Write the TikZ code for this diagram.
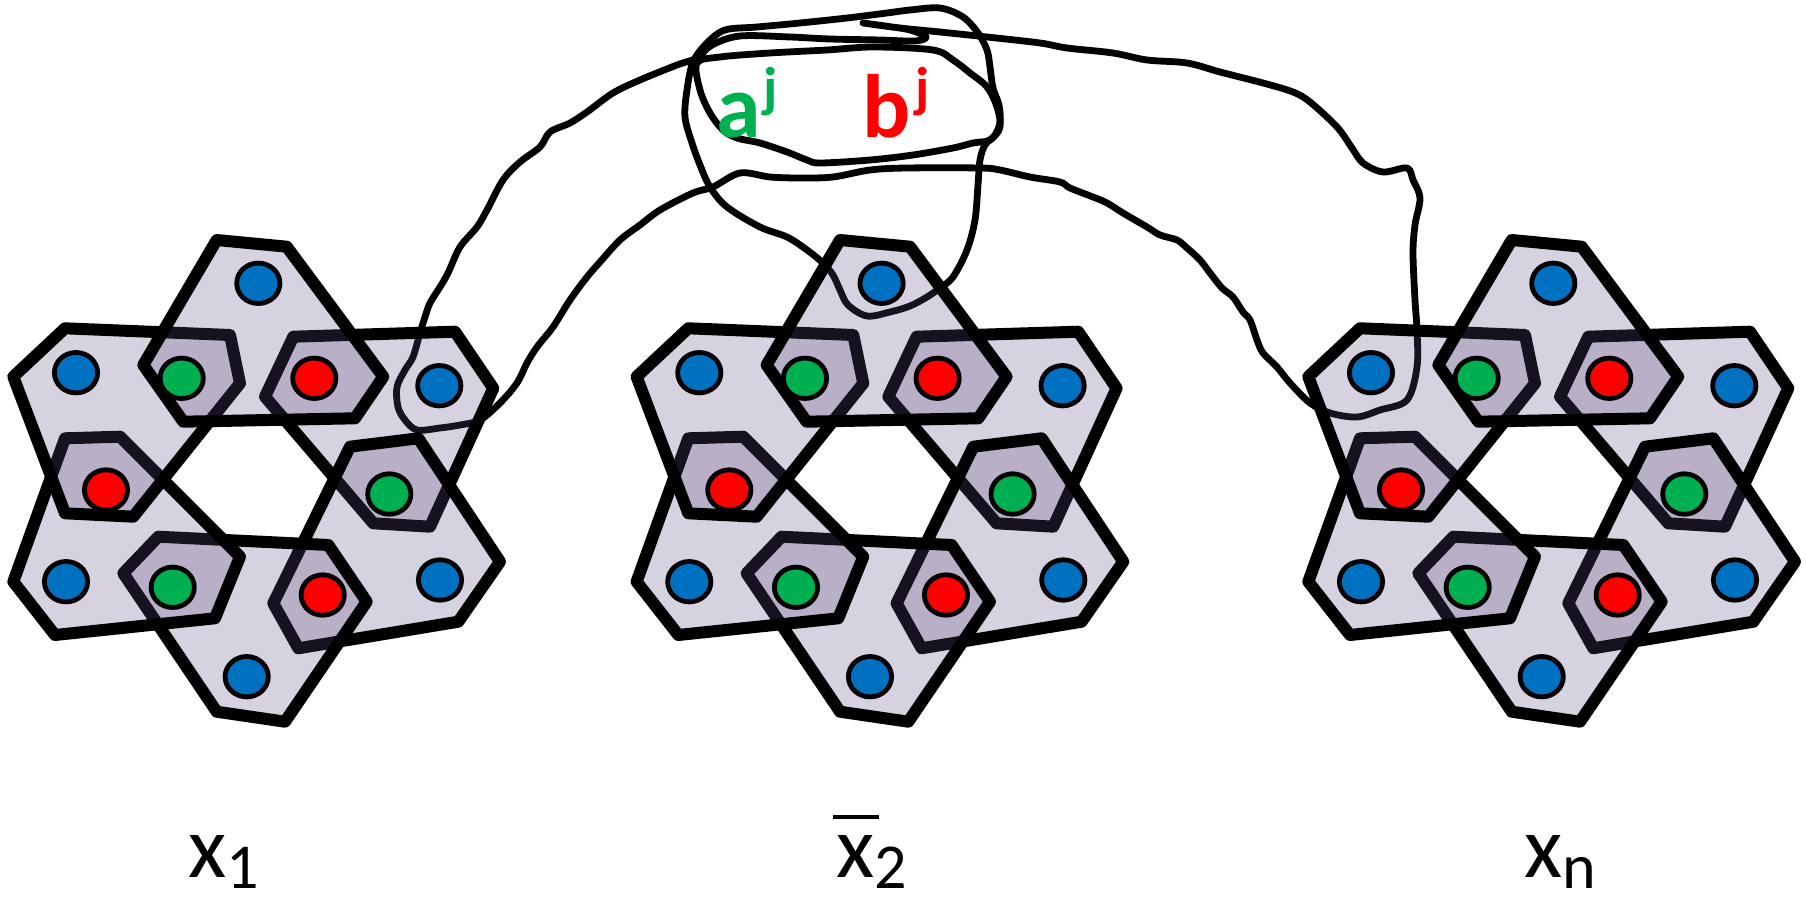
\documentclass[tikz,border=0pt]{standalone}
\usepackage{fontspec}
\setmainfont{Carlito}
\definecolor{hexfill}{RGB}{95,75,130}
\definecolor{dotblue}{RGB}{0,112,192}
\definecolor{dotgreen}{RGB}{0,176,80}
\definecolor{dotred}{RGB}{255,0,0}
\tikzset{
  hexa/.style={draw=black, line width=6pt, line join=round, fill=hexfill, fill opacity=0.25},
  curve/.style={draw=black, line width=3.4pt, line join=round, line cap=round},
  dotsz/.style={x radius=10.8pt, y radius=10.1pt},
  bdot/.style={draw=black, line width=2.4pt, fill=dotblue},
  gdot/.style={draw=black, line width=2.4pt, fill=dotgreen},
  rdot/.style={draw=black, line width=2.4pt, fill=dotred},
  lbl/.style={inner sep=0pt, anchor=base west, text=black},
  clab/.style={inner sep=0pt, anchor=base west}
}
\newcommand{\drawgadget}{%
  % hexagons, in stacking order
  \path[hexa] (293.3,336.7) -- (455,331.7) -- (493.3,388.3) -- (430,526.7) -- (373.3,523.3) -- (265,396.7) -- cycle;
  \path[hexa] (350,446.7) -- (418.3,438.3) -- (500,561.7) -- (458.3,621.7) -- (298.3,648.3) -- (273.3,603.3) -- cycle;
  \path[hexa] (158.3,536.7) -- (328.3,545) -- (366.7,601.7) -- (285,721.7) -- (216.7,711.7) -- (123.3,573.3) -- cycle;
  \path[hexa] (65,438.3) -- (120,436.7) -- (240,556.7) -- (215,618.3) -- (55,635) -- (13.3,581.7) -- cycle;
  \path[hexa] (13.3,376.7) -- (65,328.3) -- (230,335) -- (240,383.3) -- (133.3,516.7) -- (65,513.3) -- cycle;
  \path[hexa] (216.7,240) -- (286.7,246.7) -- (383.3,376.7) -- (355,418.3) -- (183.3,421.7) -- (143.3,365) -- cycle;
  % dots
  \path[bdot] (258.3,283.3) ellipse [dotsz];
  \path[bdot] (76,372.7) ellipse [dotsz];
  \path[bdot] (439.3,385.7) ellipse [dotsz];
  \path[bdot] (66,581.7) ellipse [dotsz];
  \path[bdot] (440,580) ellipse [dotsz];
  \path[bdot] (246.7,676.7) ellipse [dotsz];
  \path[gdot] (181.7,378.3) ellipse [dotsz];
  \path[gdot] (389.3,494) ellipse [dotsz];
  \path[gdot] (172.7,587.3) ellipse [dotsz];
  \path[rdot] (314.3,378.3) ellipse [dotsz];
  \path[rdot] (106,490) ellipse [dotsz];
  \path[rdot] (322.7,595) ellipse [dotsz];
}
\begin{document}
\begin{tikzpicture}[x=0.5pt,y=-0.5pt]
\useasboundingbox (0,0) rectangle (1806,899);
% hand-drawn connecting strokes (drawn first, under the gadgets)
\draw[curve] plot[smooth, tension=0.55] coordinates {
 (863,23) (900,28) (940,32) (987,37) (1040,43) (1067,48) (1113,53) (1147,60) (1187,63)
 (1220,72) (1263,83) (1293,92) (1310,102) (1337,127) (1352,148) (1363,163) (1383,172)
 (1407,168) (1413,180) (1420,198) (1415,225) (1413,253) (1415,300) (1417,330) (1417,367)
 (1407,400) (1380,410) (1357,417) (1330,413) (1310,403) (1290,383) (1277,367) (1263,353)
 (1257,340) (1250,320) (1243,312) (1233,297) (1222,288) (1210,273) (1200,260) (1187,248)
 (1177,240) (1160,235) (1147,227) (1123,213) (1107,203) (1093,197) (1070,188) (1060,182)
 (1030,177) (1000,170) (980,168) (907,168) (870,170) (833,177) (800,178) (770,177) (740,173)
 (713,187) (693,193) (660,210) (640,225) (620,240) (600,262) (587,277) (570,300) (553,327)
 (537,347) (527,363) (517,383) (500,403) (480,420) (460,425) (440,428) (417,430) (405,420)
 (398,407) (397,387) (405,370) (413,357) (420,333) (425,317) (430,303) (440,287) (448,273)
 (460,247) (477,227) (487,210) (503,180) (520,162) (540,147) (550,132) (570,123) (587,112)
 (613,93) (640,80) (677,65) (697,58) (712,45) (740,36) (790,37) (830,39) (880,40) (915,41)
 (926,37) (910,30) (885,26) (863,23)};
\draw[curve] plot[smooth cycle, tension=0.55] coordinates {
 (707,43) (693,62) (687,90) (685,117) (692,143) (700,165) (710,187) (727,207) (760,227)
 (787,237) (807,250) (823,263) (833,275) (840,290) (848,305) (867,316) (890,312) (910,306)
 (927,297) (940,288) (953,277) (967,250) (975,220) (978,185) (980,160) (985,145) (995,135)
 (1000,122) (999,105) (993,88) (990,67) (987,50) (978,33) (963,17) (940,8) (910,10)
 (887,13) (847,18) (800,23) (757,27) (725,30)};
\draw[curve] plot[smooth cycle, tension=0.55] coordinates {
 (697,63) (720,57) (770,53) (827,50) (873,47) (933,50) (953,60) (970,73) (987,87)
 (997,107) (1000,127) (990,140) (973,143) (953,148) (913,155) (870,160) (820,163)
 (807,160) (787,152) (760,143) (737,138) (723,130) (710,113) (700,90)};
% the three variable gadgets
\begin{scope}\drawgadget\end{scope}
\begin{scope}[xshift=311.65pt]\drawgadget\end{scope}
\begin{scope}[xshift=647.5pt]\drawgadget\end{scope}
% clause labels
\node[clab, text=dotgreen] (aj) at (716,138)
  {{\fontsize{45}{45}\selectfont\bfseries a}\hspace{1.5pt}{\fontsize{28}{28}\selectfont\bfseries\raisebox{15.5pt}{j}}};
\node[clab, text=dotred] (bj) at (862,138)
  {{\fontsize{45}{45}\selectfont\bfseries b}\hspace{2.5pt}{\fontsize{28}{28}\selectfont\bfseries\raisebox{15.5pt}{j}}};
% variable labels
\node[lbl] (lx1) at (188,877)
  {{\fontsize{44}{44}\selectfont x}{\fontsize{32}{32}\selectfont\raisebox{-5.5pt}{1}}};
\node[lbl] (lx2) at (836,877)
  {{\fontsize{44}{44}\selectfont x}{\fontsize{32}{32}\selectfont\raisebox{-5.5pt}{2}}};
\node[lbl] (lxn) at (1524,877)
  {{\fontsize{44}{44}\selectfont x}{\fontsize{32}{32}\selectfont\raisebox{-5.5pt}{n}}};
\draw[line width=1.8pt] (833,817) -- (879,817);
\end{tikzpicture}
\end{document}
